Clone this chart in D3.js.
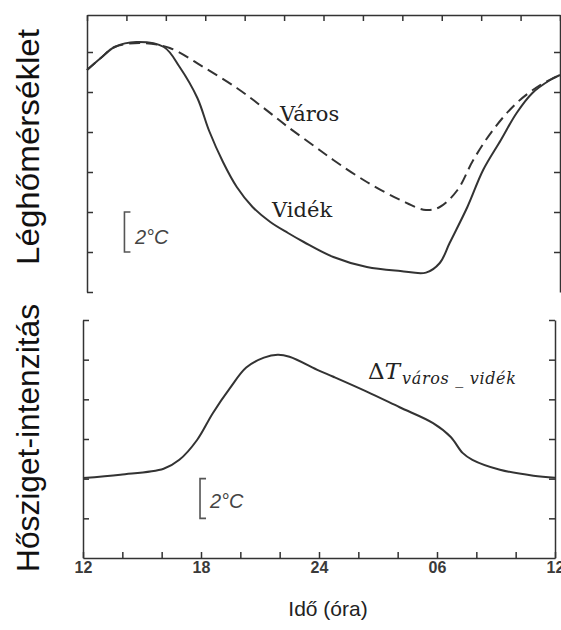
<!DOCTYPE html>
<html>
<head>
<meta charset="utf-8">
<script src="https://cdn.jsdelivr.net/npm/d3@7"></script>
<style>
  body { margin: 0; background: #fff; }
  svg { display: block; }
  .axis path, .axis line { stroke: #333; stroke-width: 1.5; }
</style>
</head>
<body>
<svg width="561" height="630"></svg>
<script>
// DATA (hours from 12:00 to 12:00 next day, temperatures in °C, relative)

var hoursVidek = [12, 12.7, 13.4, 14.5, 15.9, 16.7, 17.6, 18.2, 18.9, 19.6, 20.4, 21.3, 22.2, 23, 24.5, 26.2, 27.9, 29.2, 29.9, 30.4, 31.3, 32.1, 33, 33.8, 34.6, 35.5, 36];
var tempVidek = [11.1, 11.7, 12.25, 12.5, 12.25, 11.25, 9.7, 8.05, 6.5, 5.25, 4.25, 3.5, 2.95, 2.5, 1.75, 1.25, 1.05, 0.97, 1.45, 2.45, 4.25, 6.1, 7.6, 8.95, 9.95, 10.6, 10.85];

var hoursVaros = [12, 12.7, 13.4, 14.7, 16.2, 17.9, 19.6, 20.9, 22.2, 23.8, 24.5, 26.2, 27.9, 29.2, 29.9, 30.8, 31.6, 32.6, 33.8, 35, 36];
var tempVaros = [11.1, 11.7, 12.25, 12.45, 12.2, 11.25, 10.2, 9.25, 8.25, 7.1, 6.6, 5.5, 4.6, 4.1, 4.25, 5.1, 6.6, 8.1, 9.45, 10.35, 10.85];

var hoursDiff = [12, 13.9, 16.1, 16.9, 17.8, 18.6, 19.5, 20.3, 21.2, 21.9, 22.5, 24, 24.7, 26.4, 28.1, 29.8, 30.7, 31.3, 31.8, 33.2, 34.9, 36];
var tempDiff = [4.03, 4.2, 4.5, 4.95, 5.95, 7.3, 8.6, 9.6, 10.1, 10.25, 10.15, 9.45, 9.15, 8.4, 7.6, 6.8, 6.1, 5.3, 4.95, 4.45, 4.15, 4.05];

var hourTicks = [12, 14, 16, 18, 20, 22, 24, 26, 28, 30, 32, 34, 36];
var hourLabels = { 12: "12", 18: "18", 24: "24", 30: "06", 36: "12" };
var tempTicks = [0, 2, 4, 6, 8, 10, 12];

// SETUP

var svg = d3.select("svg");

var xTop = d3.scaleLinear().domain([12, 36]).range([87, 560]),
    yTop = d3.scaleLinear().domain([0, 13.85]).range([292, 15]),
    xBot = d3.scaleLinear().domain([12, 36]).range([83, 555]),
    yBot = d3.scaleLinear().domain([0, 12]).range([558, 320]);

function zip(xs, ys) {
    return xs.map(function (h, i) { return { h: h, t: ys[i] }; });
}

// TOP PANEL AXES

svg.append("g").attr("class", "axis")
    .attr("transform", "translate(0,15)")
    .call(d3.axisTop(xTop).tickValues(hourTicks).tickSizeInner(-6).tickSizeOuter(0).tickFormat(""));

svg.append("g").attr("class", "axis")
    .attr("transform", "translate(87,0)")
    .call(d3.axisLeft(yTop).tickValues(tempTicks).tickSizeInner(-6).tickSizeOuter(0).tickFormat(""));

svg.append("g").attr("class", "axis")
    .attr("transform", "translate(560,0)")
    .call(d3.axisRight(yTop).tickValues(tempTicks.slice(1)).tickSizeInner(-6).tickSizeOuter(0).tickFormat(""));

// BOTTOM PANEL AXES

var xAxisBot = svg.append("g").attr("class", "axis")
    .attr("transform", "translate(0,558)")
    .call(d3.axisBottom(xBot).tickValues(hourTicks).tickSizeInner(-6).tickSizeOuter(0).tickPadding(4)
        .tickFormat(function (d) { return hourLabels[d] || ""; }));

xAxisBot.selectAll("text")
    .attr("font-family", "Liberation Sans, Arial, sans-serif")
    .attr("font-size", 16)
    .attr("font-weight", "bold")
    .attr("fill", "#3a3a3a");

svg.append("g").attr("class", "axis")
    .attr("transform", "translate(83,0)")
    .call(d3.axisLeft(yBot).tickValues(tempTicks.slice(1)).tickSizeInner(-6).tickSizeOuter(0).tickFormat(""));

svg.append("g").attr("class", "axis")
    .attr("transform", "translate(555,0)")
    .call(d3.axisRight(yBot).tickValues(tempTicks.slice(1)).tickSizeInner(-6).tickSizeOuter(0).tickFormat(""));

// CURVES

var lineTop = d3.line()
    .x(function (d) { return xTop(d.h); })
    .y(function (d) { return yTop(d.t); })
    .curve(d3.curveCatmullRom.alpha(0.5));

var lineBot = d3.line()
    .x(function (d) { return xBot(d.h); })
    .y(function (d) { return yBot(d.t); })
    .curve(d3.curveCatmullRom.alpha(0.5));

svg.append("path")
    .datum(zip(hoursVaros, tempVaros))
    .attr("d", lineTop)
    .attr("fill", "none")
    .attr("stroke", "#333")
    .attr("stroke-width", 2)
    .attr("stroke-dasharray", "11,6");

svg.append("path")
    .datum(zip(hoursVidek, tempVidek))
    .attr("d", lineTop)
    .attr("fill", "none")
    .attr("stroke", "#333")
    .attr("stroke-width", 2);

svg.append("path")
    .datum(zip(hoursDiff, tempDiff))
    .attr("d", lineBot)
    .attr("fill", "none")
    .attr("stroke", "#333")
    .attr("stroke-width", 2);

// 2°C SCALE BRACKETS

function bracket(x, y0, y1, tx, ty) {
    svg.append("path")
        .attr("d", "M" + (x + 6) + "," + y0 + "H" + x + "V" + y1 + "H" + (x + 6))
        .attr("fill", "none")
        .attr("stroke", "#555")
        .attr("stroke-width", 1.6);
    svg.append("text")
        .attr("x", tx).attr("y", ty)
        .attr("font-family", "Liberation Sans, Arial, sans-serif")
        .attr("font-style", "italic")
        .attr("font-size", 20)
        .attr("fill", "#444")
        .text("2°C");
}
bracket(xTop(13.9), yTop(4), yTop(2), 135, 244);
bracket(xBot(17.95), yBot(4), yBot(2), 210, 508);

// LABELS

svg.append("text")
    .attr("x", 280).attr("y", 121)
    .attr("font-family", "DejaVu Serif, serif")
    .attr("font-size", 21)
    .attr("fill", "#222")
    .text("Város");

svg.append("text")
    .attr("x", 272).attr("y", 217)
    .attr("font-family", "DejaVu Serif, serif")
    .attr("font-size", 21)
    .attr("fill", "#222")
    .text("Vidék");

var dt = svg.append("text")
    .attr("x", 368).attr("y", 379)
    .attr("font-family", "DejaVu Serif, serif")
    .attr("fill", "#222");
dt.append("tspan").attr("font-size", 23).text("Δ");
dt.append("tspan").attr("font-size", 23).attr("font-style", "italic").text("T");
dt.append("tspan").attr("font-size", 16).attr("font-style", "italic").attr("dy", 5).attr("dx", 2)
    .attr("textLength", 114).attr("lengthAdjust", "spacing")
    .text("város _ vidék");

svg.append("text")
    .attr("transform", "translate(39,147) rotate(-90)")
    .attr("text-anchor", "middle")
    .attr("font-family", "Liberation Sans, Arial, sans-serif")
    .attr("font-size", 31)
    .attr("textLength", 236)
    .attr("lengthAdjust", "spacingAndGlyphs")
    .attr("fill", "#111")
    .text("Léghőmérséklet");

svg.append("text")
    .attr("transform", "translate(39,438) rotate(-90)")
    .attr("text-anchor", "middle")
    .attr("font-family", "Liberation Sans, Arial, sans-serif")
    .attr("font-size", 31)
    .attr("textLength", 268)
    .attr("lengthAdjust", "spacingAndGlyphs")
    .attr("fill", "#111")
    .text("Hősziget-intenzitás");

svg.append("text")
    .attr("x", 328).attr("y", 616)
    .attr("text-anchor", "middle")
    .attr("font-family", "Liberation Sans, Arial, sans-serif")
    .attr("font-size", 21)
    .attr("fill", "#222")
    .text("Idő (óra)");
</script>
</body>
</html>
